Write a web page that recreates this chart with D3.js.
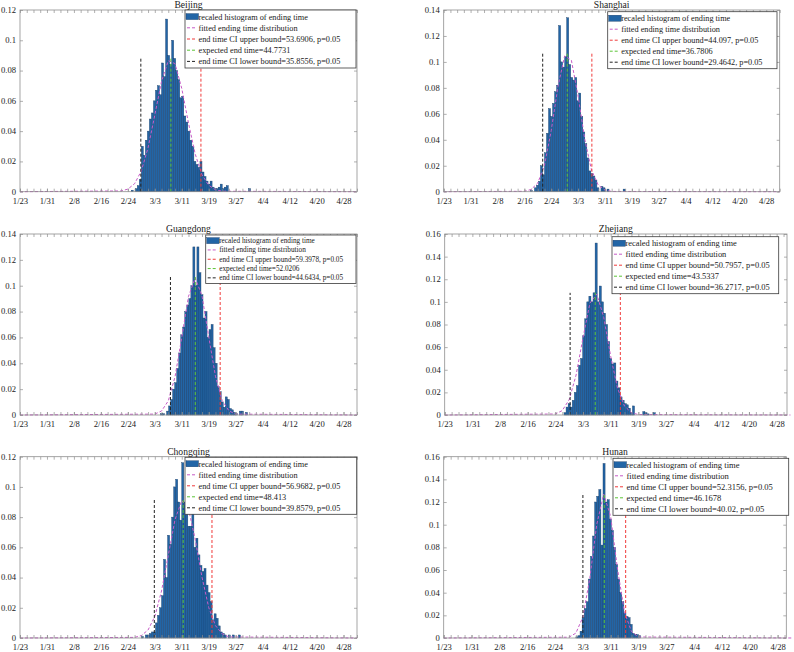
<!DOCTYPE html>
<html>
<head>
<meta charset="utf-8">
<script src="https://cdnjs.cloudflare.com/ajax/libs/d3/7.8.5/d3.min.js"></script>
<style>
body { margin: 0; background: #fff; }
text { font-family: "Liberation Serif", "Times New Roman", serif; fill: #1a1a1a; }
</style>
</head>
<body>
<script>
// ---- data ----
var provinces = ['Beijing', 'Shanghai', 'Guangdong', 'Zhejiang', 'Chongqing', 'Hunan'];
var expectedEnd = [44.7731, 36.7806, 52.0206, 43.5337, 48.413, 46.1678];
var upperBound = [53.6906, 44.097, 59.3978, 50.7957, 56.9682, 52.3156];
var lowerBound = [35.8556, 29.4642, 44.6434, 36.2717, 39.8579, 40.02];
var yMaxes = [0.12, 0.14, 0.14, 0.16, 0.12, 0.16];
var ciTop = [0.088, 0.107, 0.107, 0.108, 0.092, 0.128];

var dayTicks = [0, 8, 16, 24, 32, 40, 48, 56, 64, 72, 80, 88, 96];
var dayLabels = ['1/23', '1/31', '2/8', '2/16', '2/24', '3/3', '3/11', '3/19', '3/27', '4/4', '4/12', '4/20', '4/28'];

// histogram: first bin start (day) and bin densities, bin width in days
var binWidth = 0.6;
var histStart = [33.0, 25.8, 41.7, 34.5, 36.0, 38.0];
var histBeijing = [0.001, 0, 0.002, 0.004, 0.008, 0.03, 0.024, 0.034, 0.04, 0.048, 0.052, 0.06, 0.067, 0.07, 0.064,
  0.085, 0.076, 0.114, 0.09, 0.084, 0.1, 0.088, 0.08, 0.074, 0.062, 0.063, 0.05, 0.046, 0.04, 0.034, 0.03, 0.02,
  0.018, 0.016, 0.02, 0.013, 0.01, 0.007, 0.005, 0.007, 0.003, 0.002, 0.002, 0.003, 0.005, 0.002, 0.003, 0.004,
  0, 0, 0, 0, 0, 0, 0, 0, 0, 0, 0.002];
var histShanghai = [0.001, 0, 0.003, 0.005, 0.008, 0.02, 0.013, 0.03, 0.045, 0.064, 0.058, 0.068, 0.077, 0.082,
  0.128, 0.1, 0.096, 0.104, 0.134, 0.098, 0.088, 0.086, 0.088, 0.07, 0.076, 0.058, 0.046, 0.037, 0.026, 0.016,
  0.014, 0.012, 0.009, 0.003, 0, 0.004, 0.003, 0, 0.002, 0, 0, 0, 0, 0, 0, 0, 0.002];
var histGuangdong = [0.001, 0.001, 0, 0.003, 0.007, 0.012, 0.02, 0.025, 0.036, 0.048, 0.062, 0.068, 0.08, 0.085,
  0.09, 0.1, 0.13, 0.1, 0.13, 0.11, 0.093, 0.075, 0.08, 0.06, 0.066, 0.07, 0.052, 0.04, 0.022, 0.018, 0.01,
  0.006, 0.014, 0.012, 0.005, 0.004, 0.002, 0.001, 0, 0.003, 0.003, 0, 0.002];
var histZhejiang = [0.002, 0.007, 0.01, 0.007, 0.013, 0.02, 0.026, 0.044, 0.05, 0.07, 0.085, 0.1, 0.105, 0.1,
  0.108, 0.152, 0.1, 0.114, 0.1, 0.09, 0.08, 0.065, 0.05, 0.045, 0.046, 0.03, 0.024, 0.016, 0.013, 0.01, 0.009,
  0.006, 0.002, 0.008, 0, 0, 0, 0, 0.003, 0.002, 0.001, 0, 0, 0.002];
var histChongqing = [0.001, 0, 0.002, 0.002, 0.003, 0.004, 0.004, 0.01, 0.015, 0.02, 0.028, 0.052, 0.04, 0.068,
  0.062, 0.08, 0.1, 0.105, 0.09, 0.078, 0.116, 0.09, 0.1, 0.074, 0.074, 0.09, 0.06, 0.066, 0.055, 0.048, 0.044,
  0.046, 0.035, 0.03, 0.024, 0.012, 0.016, 0.013, 0.008, 0.004, 0.003, 0.002, 0, 0.002, 0, 0.002, 0, 0, 0.002];
var histHunan = [0.001, 0.002, 0.006, 0.018, 0.026, 0.032, 0.052, 0.072, 0.09, 0.12, 0.125, 0.131, 0.082, 0.154,
  0.12, 0.122, 0.105, 0.095, 0.08, 0.065, 0.052, 0.04, 0.032, 0.022, 0.019, 0.018, 0.012, 0.004, 0.003, 0.003,
  0.002];

// fitted distribution, read at a few days
var fitDaysBeijing = [0, 30, 32, 34, 36, 38, 40, 42, 44, 46, 48, 50, 52, 54, 56, 58, 60, 100];
var fitBeijing = [0, 0.0005, 0.0017, 0.0053, 0.0137, 0.029, 0.0506, 0.0729, 0.0865, 0.0846, 0.0682, 0.0453,
  0.0248, 0.0112, 0.0042, 0.0013, 0.0003, 0];
var fitDaysShanghai = [0, 24, 26, 28, 30, 32, 34, 36, 38, 40, 42, 44, 46, 48, 50, 100];
var fitShanghai = [0, 0.0003, 0.0017, 0.0067, 0.0205, 0.0471, 0.081, 0.1046, 0.1013, 0.0737, 0.0402, 0.0165,
  0.0051, 0.0012, 0.0002, 0];
var fitDaysGuangdong = [0, 40, 42, 44, 46, 48, 50, 52, 54, 56, 58, 60, 62, 64, 100];
var fitGuangdong = [0, 0.0007, 0.0031, 0.0109, 0.0295, 0.06, 0.0918, 0.106, 0.0923, 0.0606, 0.03, 0.0112,
  0.0032, 0.0007, 0];
var fitDaysZhejiang = [0, 32, 34, 36, 38, 40, 42, 44, 46, 48, 50, 52, 54, 56, 100];
var fitZhejiang = [0, 0.0009, 0.0039, 0.0136, 0.0353, 0.0683, 0.0989, 0.1069, 0.0863, 0.052, 0.0235, 0.0079,
  0.002, 0.0004, 0];
var fitDaysChongqing = [0, 34, 36, 38, 40, 42, 44, 46, 48, 50, 52, 54, 56, 58, 60, 62, 100];
var fitChongqing = [0, 0.0004, 0.0016, 0.0053, 0.0143, 0.0311, 0.0548, 0.0784, 0.091, 0.0855, 0.0652, 0.0403,
  0.0202, 0.0082, 0.0027, 0.0007, 0];
var fitDaysHunan = [0, 36, 38, 40, 42, 44, 46, 48, 50, 52, 54, 56, 100];
var fitHunan = [0, 0.0007, 0.0043, 0.0184, 0.0526, 0.1002, 0.127, 0.1072, 0.0603, 0.0226, 0.0056, 0.0009, 0];

var hists = [histBeijing, histShanghai, histGuangdong, histZhejiang, histChongqing, histHunan];
var fitDays = [fitDaysBeijing, fitDaysShanghai, fitDaysGuangdong, fitDaysZhejiang, fitDaysChongqing, fitDaysHunan];
var fitVals = [fitBeijing, fitShanghai, fitGuangdong, fitZhejiang, fitChongqing, fitHunan];

// ---- layout ----
// lx, ly, lw: legend box; lt: width the upper-bound label should take; lr: row height
var layout = [
  {x0: 20, x1: 357, y0: 10, y1: 191.7, xMax: 100, lx: 185, ly: 10, lw: 171, lt: 142, lr: 11.2},
  {x0: 443.7, x1: 779.7, y0: 10, y1: 191.7, xMax: 100, lx: 607.7, ly: 11.7, lw: 169.3, lt: 137.5, lr: 11},
  {x0: 20, x1: 357, y0: 234, y1: 415, xMax: 100, lx: 205.7, ly: 235, lw: 150.3, lt: 124, lr: 9.3},
  {x0: 444.7, x1: 787, y0: 234, y1: 415, xMax: 99, lx: 612, ly: 236.7, lw: 166.7, lt: 144.5, lr: 11},
  {x0: 20, x1: 357, y0: 456.7, y1: 638, xMax: 100, lx: 185, ly: 457.3, lw: 171.7, lt: 142, lr: 11},
  {x0: 443.7, x1: 786.3, y0: 456.7, y1: 638, xMax: 98.5, lx: 613, ly: 458.3, lw: 175.7, lt: 146.5, lr: 11}
];

var barFill = '#2265a6', barEdge = '#163b66';
var cFit = '#c75bc7', cUp = '#f03a3a', cExp = '#5cc437', cLow = '#222222';
var axisCol = '#8e8e8e';

var svg = d3.select("body").append("svg").attr("width", 794).attr("height", 652);
svg.append("rect").attr("width", 794).attr("height", 652).attr("fill", "#fff");

provinces.forEach(function(name, p) {
  var L = layout[p];
  var x = d3.scaleLinear().domain([0, L.xMax]).range([L.x0, L.x1]);
  var y = d3.scaleLinear().domain([0, yMaxes[p]]).range([L.y1, L.y0]);
  var g = svg.append("g");

  // histogram bars
  var bins = hists[p].map(function(v, i) { return {d: histStart[p] + i * binWidth, v: v}; })
    .filter(function(b) { return b.v > 0; });
  g.selectAll("rect.bar")
    .data(bins)
    .enter().append("rect")
    .attr("class", "bar")
    .attr("x", function(b) { return x(b.d); })
    .attr("width", x(binWidth) - x(0))
    .attr("y", function(b) { return y(b.v); })
    .attr("height", function(b) { return y(0) - y(b.v); })
    .attr("fill", barFill)
    .attr("stroke", barEdge)
    .attr("stroke-width", 0.4);

  // fitted curve
  var line = d3.line().x(function(d) { return x(d[0]); }).y(function(d) { return y(d[1]); });
  g.append("path")
    .datum(d3.zip(fitDays[p], fitVals[p]))
    .attr("d", line)
    .attr("fill", "none")
    .attr("stroke", cFit)
    .attr("stroke-width", 1)
    .attr("stroke-dasharray", "3,2");

  // CI and expected lines
  var vl = [{v: upperBound[p], c: cUp}, {v: expectedEnd[p], c: cExp}, {v: lowerBound[p], c: cLow}];
  g.selectAll("line.vl")
    .data(vl)
    .enter().append("line")
    .attr("class", "vl")
    .attr("x1", function(d) { return x(d.v); })
    .attr("x2", function(d) { return x(d.v); })
    .attr("y1", y(0))
    .attr("y2", y(ciTop[p]))
    .attr("stroke", function(d) { return d.c; })
    .attr("stroke-width", 1)
    .attr("stroke-dasharray", "3,2");

  // axes
  var yt = d3.range(0, yMaxes[p] + 1e-9, 0.02);
  var minor = d3.range(0, L.xMax + 1e-9, 2);
  var fmt = d3.format("~g");

  var bx = g.append("g").attr("transform", "translate(0," + L.y1 + ")")
    .call(d3.axisBottom(x).tickValues(dayTicks).tickFormat(function(d, i) { return dayLabels[i]; })
      .tickSize(-3).tickPadding(6));
  var tx = g.append("g").attr("transform", "translate(0," + L.y0 + ")")
    .call(d3.axisTop(x).tickValues(minor).tickFormat("").tickSize(-3));
  var bx2 = g.append("g").attr("transform", "translate(0," + L.y1 + ")")
    .call(d3.axisBottom(x).tickValues(minor).tickFormat("").tickSize(-3));
  var ly = g.append("g").attr("transform", "translate(" + L.x0 + ",0)")
    .call(d3.axisLeft(y).tickValues(yt).tickFormat(function(d) { return fmt(+d.toFixed(2)); })
      .tickSize(-3).tickPadding(4));
  var ry = g.append("g").attr("transform", "translate(" + L.x1 + ",0)")
    .call(d3.axisRight(y).tickValues(yt).tickFormat("").tickSize(-3));

  [bx, tx, bx2, ly, ry].forEach(function(a) {
    a.select(".domain").remove();
    a.selectAll(".tick line").attr("stroke", axisCol).attr("stroke-width", 0.7);
    a.selectAll(".tick text").attr("font-size", 8.6).attr("font-family", "Liberation Serif").attr("fill", "#1a1a1a");
  });
  ly.selectAll(".tick text").attr("dy", "0.28em");

  g.append("rect")
    .attr("x", L.x0).attr("y", L.y0)
    .attr("width", L.x1 - L.x0).attr("height", L.y1 - L.y0)
    .attr("fill", "none").attr("stroke", axisCol).attr("stroke-width", 0.8);

  // title
  g.append("text")
    .attr("x", (L.x0 + L.x1) / 2).attr("y", L.y0 - 2)
    .attr("text-anchor", "middle")
    .attr("font-size", 9.6)
    .text(name);

  // legend
  var labels = [
    'recaled histogram of ending time',
    'fitted ending time distribution',
    'end time CI upper bound=' + upperBound[p] + ', p=0.05',
    'expected end time=' + expectedEnd[p],
    'end time CI lower bound=' + lowerBound[p] + ', p=0.05'
  ];
  var cols = [null, cFit, cUp, cExp, cLow];
  var leg = g.append("g");
  leg.append("rect")
    .attr("x", L.lx).attr("y", L.ly)
    .attr("width", L.lw).attr("height", 5 * L.lr + 2)
    .attr("fill", "#fff").attr("stroke", "#3a3a3a").attr("stroke-width", 0.8);

  // size the font so the upper-bound label spans the width seen in the reference
  var probe = leg.append("text").attr("font-size", 10).text(labels[2]);
  var fs = 10 * L.lt / probe.node().getComputedTextLength();
  probe.remove();

  labels.forEach(function(t, i) {
    var cy = L.ly + 1 + L.lr * (i + 0.5);
    if (i === 0) {
      leg.append("rect")
        .attr("x", L.lx + 1).attr("y", cy - 3)
        .attr("width", 12.5).attr("height", 6)
        .attr("fill", barFill).attr("stroke", barEdge).attr("stroke-width", 0.4);
    } else {
      leg.append("line")
        .attr("x1", L.lx + 2).attr("x2", L.lx + 11)
        .attr("y1", cy).attr("y2", cy)
        .attr("stroke", cols[i]).attr("stroke-width", 1).attr("stroke-dasharray", "3,2");
    }
    leg.append("text")
      .attr("x", L.lx + 13.5).attr("y", cy)
      .attr("dy", "0.35em")
      .attr("font-size", fs)
      .text(t);
  });
});
</script>
</body>
</html>
